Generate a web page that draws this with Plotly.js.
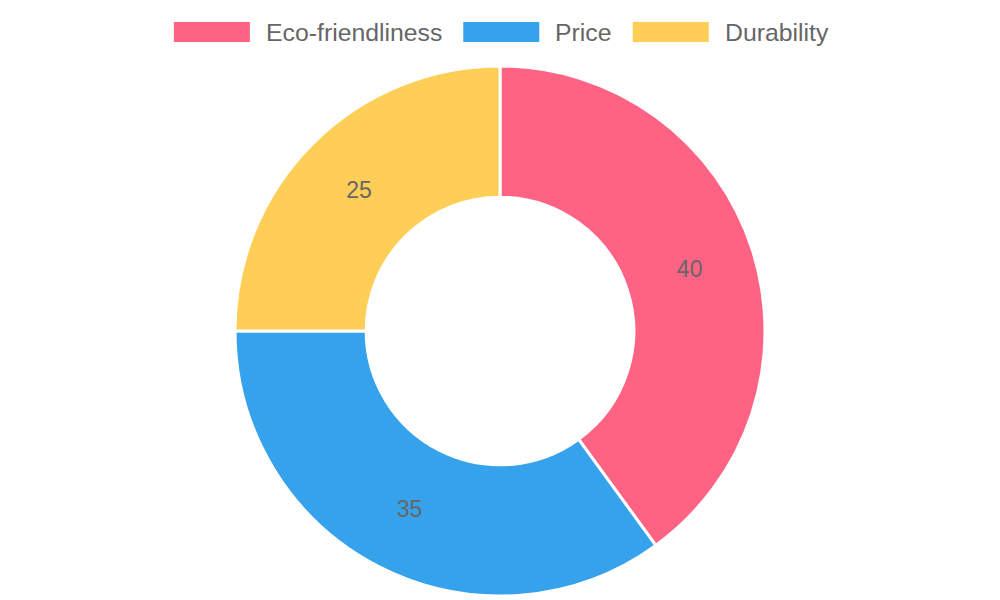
<!DOCTYPE html>
<html>
<head>
<meta charset="utf-8">
<script src="https://cdn.plot.ly/plotly-3.0.1.min.js"></script>
<style>
  html, body { margin: 0; padding: 0; background: #fff; }
  #chart { width: 1000px; height: 600px; }
</style>
</head>
<body>
<div id="chart"></div>
<script>
var categories = ['Eco-friendliness', 'Price', 'Durability']
var shares = [40, 35, 25]
var colors = ['#FF6384', '#36A2EB', '#FFCE56']

var W = 1000, H = 600
var fontFamily = '"Liberation Sans", Arial, Helvetica, sans-serif'
var legendFontSize = 24.8

/**
 * Legend, drawn by hand so the boxes are wide rectangles
 * (like the original), laid out centred from measured text widths
 */
var ctx = document.createElement('canvas').getContext('2d')
ctx.font = legendFontSize + 'px ' + fontFamily
var boxW = 76, boxH = 20, boxGap = 14, itemGap = 23
var widths = categories.map(c => boxW + boxGap + ctx.measureText(c).width)
var total = widths.reduce((a, b) => a + b, 0) + itemGap * (categories.length - 1)
var x = (W - total) / 2
var legendY = 32
var shapes = [], annotations = []
categories.forEach(function (c, i) {
  shapes.push({
    type: 'rect', xref: 'paper', yref: 'paper',
    x0: x / W, x1: (x + boxW) / W,
    y0: 1 - (legendY - boxH / 2) / H, y1: 1 - (legendY + boxH / 2) / H,
    fillcolor: colors[i], line: {width: 0}
  })
  annotations.push({
    text: c, xref: 'paper', yref: 'paper',
    x: (x + boxW + boxGap) / W, y: 1 - legendY / H,
    xanchor: 'left', yanchor: 'middle', showarrow: false,
    font: {family: fontFamily, size: legendFontSize, color: '#666666'}
  })
  x += widths[i] + itemGap
})

var chart_data = [
  {
    type: 'pie',
    labels: categories,
    values: shares,
    hole: 0.505,
    sort: false,
    direction: 'clockwise',
    rotation: 0,
    textinfo: 'value',
    textposition: 'inside',
    insidetextorientation: 'horizontal',
    textfont: {family: fontFamily, size: 23, color: '#666666'},
    marker: {colors: colors, line: {color: '#ffffff', width: 3}},
    hoverinfo: 'label+value',
    domain: {x: [0.235, 0.765], y: [4 / H, 534 / H]}
  }
]

var chart_layout = {
  width: W,
  height: H,
  margin: {l: 0, r: 0, t: 0, b: 0},
  paper_bgcolor: '#ffffff',
  showlegend: false,
  font: {family: fontFamily},
  shapes: shapes,
  annotations: annotations
}

Plotly.newPlot('chart', chart_data, chart_layout, {displayModeBar: false})
</script>
</body>
</html>
